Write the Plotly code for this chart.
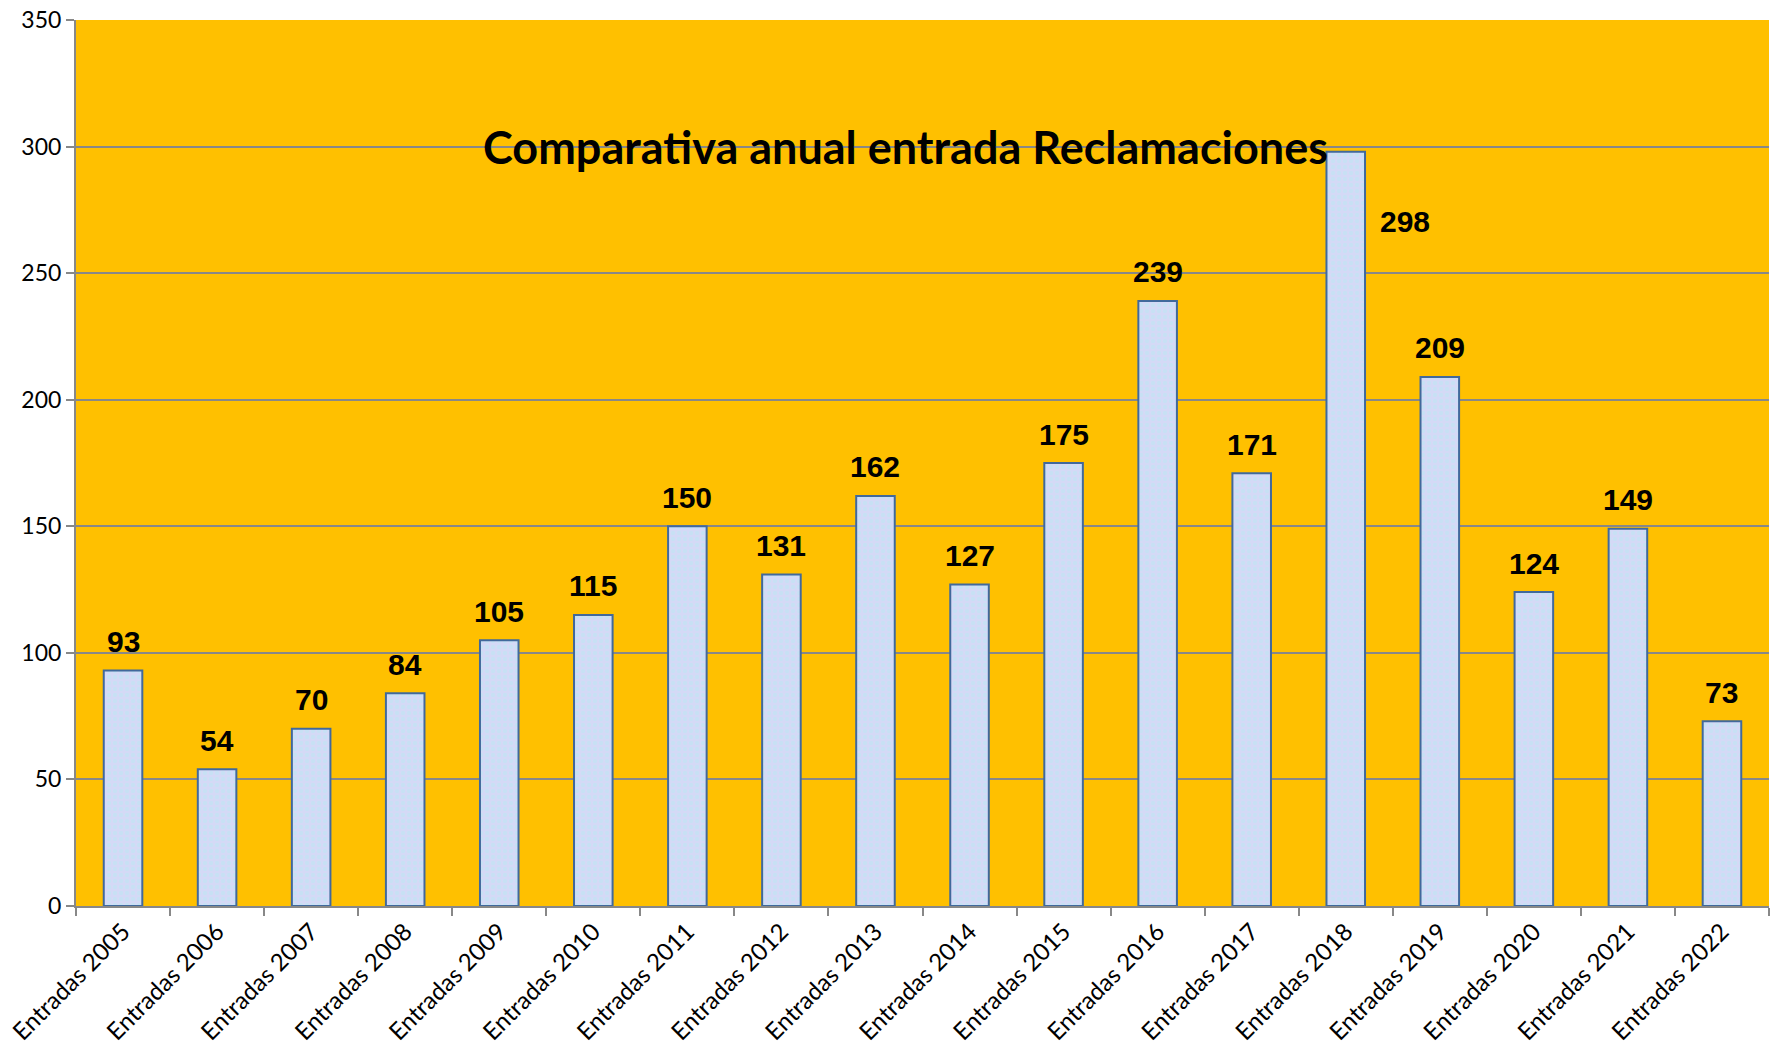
import plotly.graph_objects as go

years = list(range(2005, 2023))
categorias = [f"Entradas {y}" for y in years]
entradas = [93, 54, 70, 84, 105, 115, 150, 131, 162, 127, 175, 239, 171, 298, 209, 124, 149, 73]
y_ticks = [0, 50, 100, 150, 200, 250, 300, 350]

fig = go.Figure()
fig.add_trace(go.Bar(
    x=categorias,
    y=entradas,
    marker=dict(
        color="#d0dcf5",
        line=dict(color="#41699c", width=2),
        pattern=dict(shape=".", fgcolor="#b9e8f2", bgcolor="#d4d9f6", size=6, solidity=0.45),
    ),
    width=0.41,
    hoverinfo="x+y",
))

# etiquetas de datos
for cat, val in zip(categorias, entradas):
    if val == max(entradas):
        # la etiqueta del máximo va a la derecha de la barra
        fig.add_annotation(x=cat, y=val, text=f"<b>{val}</b>", showarrow=False,
                           xshift=59, yshift=-70)
    else:
        fig.add_annotation(x=cat, y=val, text=f"<b>{val}</b>", showarrow=False,
                           yshift=29)

fig.update_annotations(font=dict(family="Liberation Sans, Arial", size=30, color="black"))

fig.add_annotation(
    text="<b>Comparativa anual entrada Reclamaciones</b>",
    xref="paper", yref="paper", x=0.49, y=0.857, yanchor="middle",
    showarrow=False, font=dict(family="Lato, Noto Sans", size=45, color="black"),
)

fig.update_layout(
    width=1775, height=1056,
    margin=dict(l=76, r=6, t=20, b=150),
    paper_bgcolor="white",
    plot_bgcolor="#FFC000",
    showlegend=False,
    font=dict(family="Lato, Noto Sans", size=22, color="black"),
)
fig.update_xaxes(
    tickangle=-45, tickson="boundaries", ticks="outside", ticklen=8,
    tickcolor="#888888", tickwidth=2,
    showline=True, linecolor="#888888", linewidth=2,
    showgrid=False, tickfont=dict(size=24), automargin=False,
    ticklabeloverflow="allow",
)
fig.update_yaxes(
    range=[0, 350], tickvals=y_ticks, ticks="outside", ticklen=8,
    tickcolor="#888888", tickwidth=2,
    showline=True, linecolor="#888888", linewidth=2,
    gridcolor="#888888", gridwidth=2, zeroline=False,
    tickfont=dict(size=23), automargin=False,
    ticklabeloverflow="allow",
)

# sin margen del body para que la figura ocupe toda la ventana
fig.write_html("out.html", config={"displayModeBar": False},
               post_script="document.body.style.margin='0';")
